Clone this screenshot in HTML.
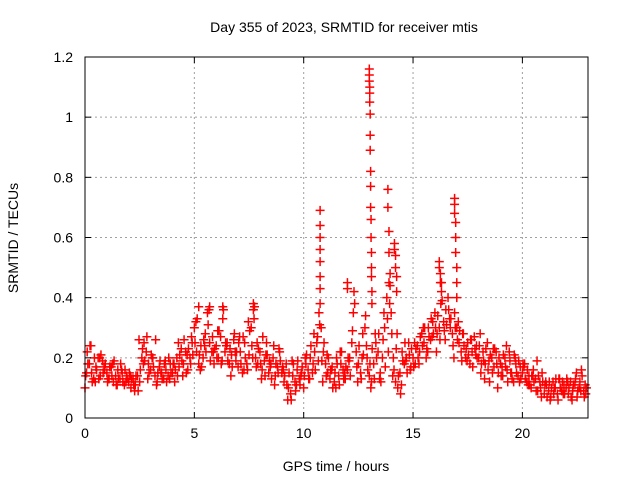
<!DOCTYPE html>
<html><head><meta charset="utf-8"><style>
body{margin:0;background:#fff;}
svg text{font-family:"Liberation Sans",sans-serif;font-size:14px;fill:#000;}
</style></head><body>
<svg id="c" width="640" height="480">
<text x="344" y="32" text-anchor="middle">Day 355 of 2023, SRMTID for receiver mtis</text>
<text x="336" y="471" text-anchor="middle">GPS time / hours</text>
<text transform="translate(18,238) rotate(-90)" text-anchor="middle">SRMTID / TECUs</text>
<g id="grid"></g>
<g id="pts"></g>
<g id="axes"></g>
</svg>
<script>
const xTicks=[0,5,10,15,20];
const yTicks=[0,0.2,0.4,0.6,0.8,1,1.2];
const yTickLabels=["0","0.2","0.4","0.6","0.8","1","1.2"];
const seriesA=[.10,.22,.18,.15,.13,.17,.20,.14,.19,.16,
.15,.13,.17,.12,.14,.16,.13,.15,.11,.14,
.12,.10,.13,.11,.14,.12,.20,.25,.22,.18,
.16,.20,.14,.12,.17,.15,.13,.16,.14,.18,
.15,.12,.20,.17,.23,.18,.22,.16,.20,.25,
.30,.22,.18,.24,.20,.28,.35,.25,.22,.18,
.24,.20,.27,.33,.22,.25,.18,.21,.26,.19,
.17,.22,.15,.25,.18,.21,.30,.36,.20,.18,
.22,.16,.19,.25,.15,.18,.20,.14,.17,.22,
.15,.12,.18,.10,.08,.14,.12,.16,.13,.15,
.10,.18,.16,.20,.15,.22,.25,.35,.30,.22,
.18,.15,.13,.17,.12,.20,.14,.18,.16,.13,
.16,.20,.25,.42,.22,.18,.15,.28,.30,.20,
.14,.12,.18,.25,.22,.15,.20,.30,.40,.45,
.35,.20,.12,.10,.15,.22,.18,.20,.25,.17,
.20,.18,.24,.22,.28,.25,.20,.30,.26,.32,
.35,.28,.30,.45,.32,.36,.40,.30,.28,.35,
.30,.25,.22,.28,.20,.25,.18,.22,.27,.24,
.20,.15,.22,.18,.25,.12,.20,.17,.22,.15,
.18,.14,.20,.16,.22,.15,.12,.18,.14,.17,
.15,.18,.12,.14,.10,.16,.13,.09,.12,.15,
.08,.11,.09,.07,.12,.10,.08,.13,.09,.11,
.10,.08,.12,.09,.11,.07,.10,.16,.09,.08];
const seriesC=[.14,.18,.24,.12,.20,.16,.13,.21,.15,.18,
.12,.17,.14,.19,.11,.13,.18,.12,.16,.13,
.15,.13,.11,.14,.09,.16,.23,.19,.27,.15,
.21,.17,.26,.15,.19,.13,.18,.12,.20,.15,
.18,.16,.14,.21,.19,.26,.15,.23,.18,.21,
.25,.33,.21,.17,.26,.22,.31,.19,.27,.23,
.20,.29,.18,.36,.25,.19,.23,.17,.28,.22,
.25,.18,.27,.20,.16,.29,.24,.33,.17,.23,
.18,.27,.14,.21,.19,.13,.24,.18,.15,.19,
.17,.14,.11,.15,.06,.18,.09,.19,.11,.17,
.14,.21,.13,.24,.18,.16,.27,.31,.19,.25,
.14,.20,.16,.10,.15,.18,.11,.22,.13,.17,
.20,.14,.29,.38,.17,.24,.13,.21,.34,.16,
.18,.23,.13,.20,.28,.12,.26,.17,.33,.38,
.28,.16,.23,.14,.08,.19,.25,.15,.21,.23,
.17,.23,.20,.27,.24,.30,.23,.27,.33,.28,
.30,.34,.26,.39,.29,.31,.36,.33,.24,.30,
.26,.29,.19,.24,.23,.21,.26,.17,.23,.20,
.24,.18,.19,.23,.16,.21,.15,.23,.18,.20,
.14,.21,.17,.12,.19,.13,.21,.15,.19,.13,
.18,.13,.16,.11,.14,.12,.09,.14,.10,.12,
.11,.07,.12,.10,.08,.13,.06,.10,.12,.08,
.13,.10,.07,.11,.13,.09,.12,.14,.07,.10];
const seriesB=[.15,.24,.12,.20,.17,.13,.18,.11,.16,.12,
.14,.09,.26,.18,.13,.20,.11,.15,.19,.13,
.18,.25,.14,.21,.27,.32,.16,.24,.36,.22,
.29,.19,.24,.14,.22,.27,.16,.32,.20,.25,
.13,.21,.17,.11,.23,.16,.06,.19,.11,.14,
.20,.13,.28,.19,.12,.21,.16,.10,.22,.15,
.19,.35,.12,.20,.24,.10,.28,.13,.35,.22,
.14,.28,.11,.19,.16,.25,.18,.30,.22,.27,
.22,.38,.26,.33,.20,.32,.28,.19,.26,.21,
.28,.13,.19,.23,.10,.17,.24,.15,.20,.12,
.17,.11,.14,.19,.07,.12,.06,.10,.13,.08,
.12,.06,.15,.09,.11];
const spikeTimes=[10.75,10.75,10.75,10.75,10.75,10.75,10.75,10.75,12.0,12.0,
13.0,13.0,13.0,13.02,13.02,13.02,13.04,13.04,13.04,13.06,13.06,13.06,13.08,13.08,13.1,13.1,13.1,13.12,13.12,
13.85,13.85,13.9,13.9,13.95,13.95,14.15,14.15,14.2,14.2,14.25,14.25,
16.2,16.2,16.25,16.25,16.3,16.9,16.9,16.9,16.95,16.95,16.95,17.0,17.0,17.0,
5.2,5.7,6.3,7.7,7.75];
const spikeValues=[.69,.64,.60,.56,.52,.47,.43,.38,.45,.43,
1.16,1.14,1.12,1.10,1.08,1.05,1.01,.94,.89,.82,.77,.70,.66,.60,.55,.50,.47,.42,.38,
.76,.70,.62,.55,.48,.44,.58,.56,.54,.50,.47,.42,
.52,.50,.48,.45,.42,.73,.71,.68,.65,.60,.55,.50,.45,.40,
.37,.37,.37,.38,.37];
const L=85,R=588,T=57,B=418,XMAX=23,YMAX=1.2;
const xs=v=>L+v/XMAX*(R-L), ys=v=>B-v/YMAX*(B-T);
const NS="http://www.w3.org/2000/svg";
const mk=(p,t,a)=>{const e=document.createElementNS(NS,t);for(const k in a)e.setAttribute(k,a[k]);p.appendChild(e);return e;};
const g=document.getElementById('grid'),ax=document.getElementById('axes'),pts=document.getElementById('pts');
xTicks.forEach(t=>{const x=xs(t);
 if(t>0){const l=mk(g,'line',{x1:x,x2:x,y1:T,y2:B,stroke:'#a0a0a0','stroke-dasharray':'2,3'});
 
 }
 mk(ax,'line',{x1:x,x2:x,y1:B,y2:B-6,stroke:'#000'});mk(ax,'line',{x1:x,x2:x,y1:T,y2:T+6,stroke:'#000'});
 const tx=mk(ax,'text',{x:x,y:B+20,'text-anchor':'middle'});tx.textContent=t;
 
 });
yTicks.forEach((t,i)=>{const y=ys(t);
 if(t>0&&t<1.2){const l=mk(g,'line',{x1:L,x2:R,y1:y,y2:y,stroke:'#a0a0a0','stroke-dasharray':'2,3'});
 
 }
 mk(ax,'line',{x1:L,x2:L+6,y1:y,y2:y,stroke:'#000'});mk(ax,'line',{x1:R,x2:R-6,y1:y,y2:y,stroke:'#000'});
 const tx=mk(ax,'text',{x:L-12,y:y+5,'text-anchor':'end'});tx.textContent=yTickLabels[i];
 
 });
mk(ax,'rect',{x:L,y:T,width:R-L,height:B-T,fill:'none',stroke:'#000'});
function plus(t,v){const x=xs(t),y=ys(v);
 const p=mk(pts,'path',{d:`M${x-4.5},${y}h9M${x},${y-4.5}v9`,stroke:'#f00','stroke-width':1.5});
 
 }
seriesA.forEach((v,i)=>plus(i*0.1,v));
seriesC.forEach((v,i)=>plus(0.03+i*0.1,v));
seriesB.forEach((v,i)=>plus(0.07+i*0.2,v));
spikeTimes.forEach((t,i)=>plus(t,spikeValues[i]));
</script>
</body></html>
